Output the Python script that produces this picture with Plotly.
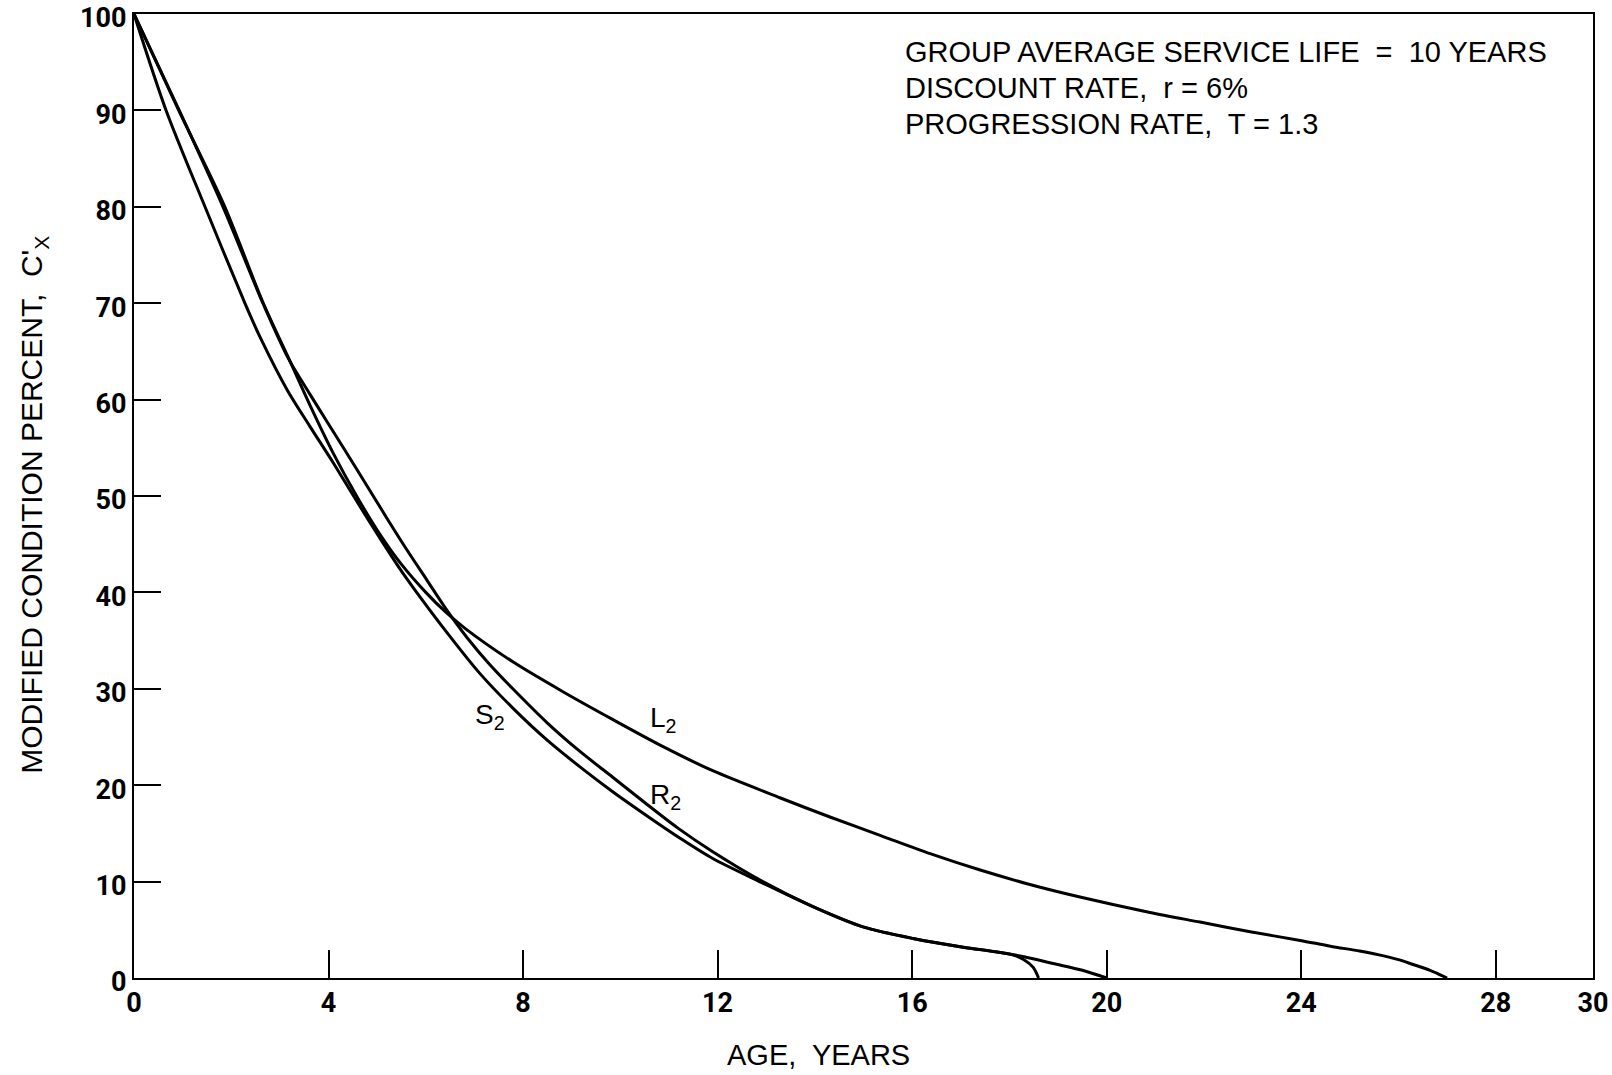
import plotly.graph_objects as go

# ---- data ----
s2_age = [0, 0.66, 1.46, 2.28, 2.59, 3.15, 3.62, 4.09, 4.6, 5.06, 5.5, 5.74, 6.44, 7.11, 7.79,
          8.49, 9.17, 9.85, 10.67, 11.23, 11.9, 12.93, 13.96, 14.99, 16.02, 17.05, 17.75, 18.07,
          18.3, 18.49, 18.6]
s2_val = [100, 90, 80, 70, 66.5, 61.0, 57.2, 53.5, 49.3, 45.6, 42.2, 40.5, 35.8, 31.6, 28.0,
          24.7, 21.9, 19.3, 16.4, 14.5, 12.4, 9.85, 7.4, 5.3, 4.1, 3.2, 2.7, 2.4,
          1.9, 1.1, 0]

r2_age = [0, 0.93, 1.83, 2.65, 3.17, 3.6, 3.97, 4.59, 5.2, 5.6, 6.02, 6.4, 6.85, 7.3, 7.79, 8.49,
          9.17, 9.85, 10.5, 11.17, 11.9, 12.93, 13.96, 14.99, 16.02, 17.05, 17.75, 18.3, 18.9,
          19.5, 20.0]
r2_val = [100, 90, 80, 70, 64.3, 60.7, 57.7, 52.7, 47.7, 44.5, 41.3, 38.4, 35.3, 32.6, 30.0, 26.5,
          23.5, 20.8, 18.2, 15.6, 13.1, 10.0, 7.4, 5.3, 4.1, 3.2, 2.7, 2.2, 1.5,
          0.8, 0]

l2_age = [0, 0.9, 1.85, 2.65, 3.17, 3.62, 4.09, 4.6, 5.06, 5.5, 6.0, 6.4, 6.8, 7.79, 8.82,
          9.85, 10.88, 11.9, 13.28, 14.31, 15.34, 16.37, 17.40, 18.42, 19.45, 20.89, 21.92, 22.95,
          23.98, 24.6, 25.2, 25.6, 26.0, 26.3, 26.65, 27.0]
l2_val = [100, 90.2, 80.2, 70.1, 64.4, 59.4, 54.5, 49.8, 46.0, 42.9, 40.0, 38.0, 36.3, 32.8, 29.7,
          26.8, 24.0, 21.5, 18.7, 16.7, 14.8, 12.9, 11.2, 9.7, 8.4, 6.8, 5.8, 4.8,
          3.9, 3.3, 2.8, 2.4, 1.9, 1.4, 0.8, 0]

x_ticks = [0, 4, 8, 12, 16, 20, 24, 28, 30]
y_ticks = [0, 10, 20, 30, 40, 50, 60, 70, 80, 90, 100]

curve_labels = ["S<sub>2</sub>", "L<sub>2</sub>", "R<sub>2</sub>"]
label_x = [7.32, 10.88, 10.92]
label_y = [27.1, 26.8, 18.8]

info_lines = ["GROUP AVERAGE SERVICE LIFE  =  10 YEARS",
              "DISCOUNT RATE,  r = 6%",
              "PROGRESSION RATE,  T = 1.3"]

TICK_FONT = "Roboto, Liberation Sans, sans-serif"
TEXT_FONT = "Liberation Sans, Arial, sans-serif"

fig = go.Figure()
for xs, ys in [(s2_age, s2_val), (r2_age, r2_val), (l2_age, l2_val)]:
    fig.add_trace(go.Scatter(x=xs, y=ys, mode="lines",
                             line=dict(color="black", width=3, shape="spline", smoothing=0.8),
                             showlegend=False, hoverinfo="skip"))

annotations = []
for t, xv, yv in zip(curve_labels, label_x, label_y):
    annotations.append(dict(x=xv, y=yv, xref="x", yref="y", text=t, showarrow=False,
                            font=dict(family=TEXT_FONT, size=28, color="black")))

for i, t in enumerate(info_lines):
    annotations.append(dict(x=0.527, y=0.961 - i * 0.0375, xref="paper", yref="paper", text=t,
                            showarrow=False, xanchor="left", yanchor="middle",
                            font=dict(family=TEXT_FONT, size=29, color="black")))

annotations.append(dict(x=0.469, y=-0.080, xref="paper", yref="paper", text="AGE,  YEARS",
                        showarrow=False, xanchor="center", yanchor="middle",
                        font=dict(family=TEXT_FONT, size=29, color="black")))
annotations.append(dict(x=-0.0685, y=0.491, xref="paper", yref="paper",
                        text="MODIFIED CONDITION PERCENT,  C'<sub>X</sub>",
                        showarrow=False, xanchor="center", yanchor="middle", textangle=-90,
                        font=dict(family=TEXT_FONT, size=30, color="black")))

fig.update_layout(
    width=1612, height=1075,
    margin=dict(l=134, r=19, t=14, b=97, autoexpand=False),
    paper_bgcolor="white", plot_bgcolor="white",
    annotations=annotations,
)
fig.update_xaxes(range=[0, 30], tickvals=x_ticks, ticktext=[str(v) for v in x_ticks],
                 showgrid=False, zeroline=False, showline=True, linecolor="black", linewidth=2,
                 mirror=True, ticks="inside", ticklen=28, tickwidth=2, tickcolor="black",
                 ticklabeloverflow="allow", automargin=False,
                 tickfont=dict(family=TICK_FONT, size=27, color="black", weight="bold"))
fig.update_yaxes(range=[0, 100], tickvals=y_ticks, ticktext=[str(v) for v in y_ticks],
                 showgrid=False, zeroline=False, showline=True, linecolor="black", linewidth=2,
                 mirror=True, ticks="inside", ticklen=27, tickwidth=2, tickcolor="black",
                 ticklabeloverflow="allow", automargin=False, ticklabelshift=4,
                 tickfont=dict(family=TICK_FONT, size=27, color="black", weight="bold"))

fig.write_html("out.html")
